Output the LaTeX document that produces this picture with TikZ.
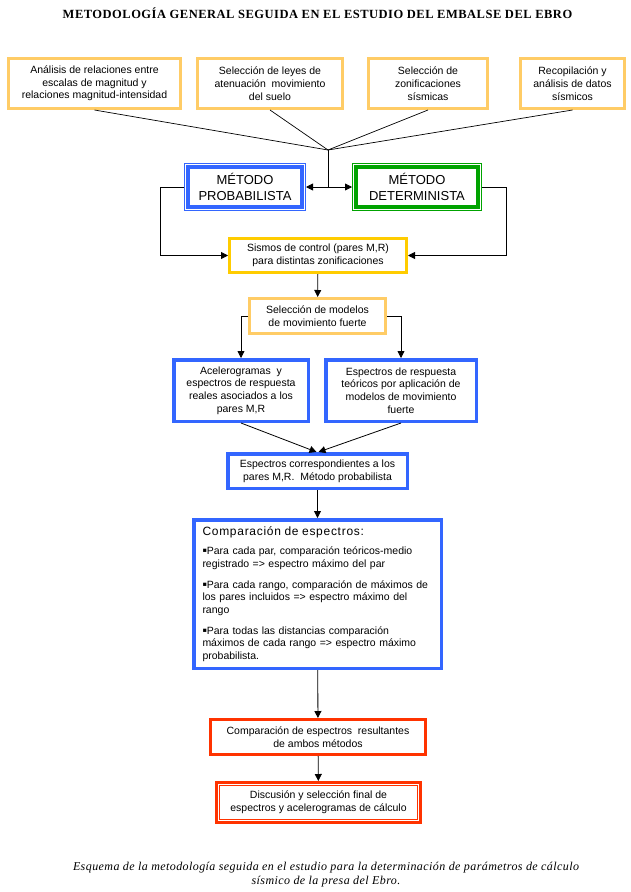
\documentclass[tikz,border=0pt]{standalone}
\usepackage{fontspec}
\setmainfont{Liberation Serif}
\setsansfont{Liberation Sans}
\newfontfamily\simbolos{DejaVu Sans}
\usepackage{xcolor}
\usepackage{tikz}
\usetikzlibrary{arrows.meta}
\definecolor{naranja}{HTML}{FFCC66}
\definecolor{oro}{HTML}{FFCC00}
\definecolor{azul}{HTML}{3366FF}
\definecolor{verde}{HTML}{00A300}
\definecolor{rojo}{HTML}{FF3300}
\newcommand{\vineta}{\raisebox{2pt}{\simbolos\fontsize{6.5}{6.5}\selectfont▪}}
\tikzset{caja/.style ={draw, line width=3pt, inner sep=0pt, align=center, font=\sffamily\fontsize{10.5}{12.7}\selectfont}}
\tikzset{metodo/.style ={draw, line width=1pt, inner sep=0pt, align=center, font=\sffamily\fontsize{13}{16}\selectfont}}
\tikzset{linea/.style ={line width=0.7pt}}
\tikzset{punta/.tip ={Triangle[length=7pt,width=7pt]}}
\tikzset{flecha/.style ={line width=0.8pt, -punta}}

\begin{document}
\begin{tikzpicture}[x=1pt,y=-1pt]
{
\useasboundingbox (0,0) rectangle (631,892);
\node[font=\bfseries\fontsize{12.5}{14}\selectfont\addfontfeature{LetterSpace=4}] (titulo) at (317.5,13) {METODOLOGÍA GENERAL SEGUIDA EN EL ESTUDIO DEL EMBALSE DEL EBRO};
% datos de partida
\node[caja, draw=naranja, minimum width=172pt, minimum height=50pt] (anal) at (94.5,83.5) {Análisis de relaciones entre\\escalas de magnitud y\\relaciones magnitud-intensidad};
\node[caja, draw=naranja, minimum width=145pt, minimum height=50pt] (leyes) at (270,83.5) {Selección de leyes de\\atenuación\ \ movimiento\\del suelo};
\node[caja, draw=naranja, minimum width=119pt, minimum height=50pt] (zonif) at (428,83.5) {Selección de\\zonificaciones\\sísmicas};
\node[caja, draw=naranja, minimum width=104pt, minimum height=50pt] (recop) at (572.5,83.5) {Recopilación y\\análisis de datos\\sísmicos};
\coordinate (nudo) at (328,150);
\foreach \n in {anal,leyes,zonif,recop}
  \draw[linea] (\n.south) -- (nudo);
% los dos metodos
\node[metodo, draw=azul, minimum width=121pt, minimum height=47pt] (prob) at (245,187) {MÉTODO\\PROBABILISTA};
\draw[azul, line width=3.5pt] ([shift={(4pt,-4pt)}]prob.north west) rectangle ([shift={(-4pt,4pt)}]prob.south east);
\node[metodo, draw=verde, minimum width=129pt, minimum height=47pt] (det) at (417,187) {MÉTODO\\DETERMINISTA};
\draw[verde, line width=3.5pt] ([shift={(4pt,-4pt)}]det.north west) rectangle ([shift={(-4pt,4pt)}]det.south east);
\draw[linea] (nudo) -- (nudo |- prob.east);
\draw[flecha, punta-punta] (prob.east) -- (det.west);
% cadena central
\node[caja, draw=oro, minimum width=177pt, minimum height=34pt] (sismos) at (318,255.5) {Sismos de control (pares M,R)\\para distintas zonificaciones};
\node[caja, draw=naranja, minimum width=136pt, minimum height=35pt] (sel) at (317.5,316) {Selección de modelos\\de movimiento fuerte};
\node[caja, draw=azul, line width=3.5pt, minimum width=134.5pt, minimum height=61.5pt] (acel) at (241,390.5) {Acelerogramas\ \ y\\espectros de respuesta\\reales asociados a los\\pares M,R};
\node[caja, draw=azul, line width=3.5pt, minimum width=150.5pt, minimum height=61.5pt] (teor) at (401,390.5) {Espectros de respuesta\\teóricos por aplicación de\\modelos de movimiento\\fuerte};
\node[caja, draw=azul, line width=3.5pt, minimum width=179.5pt, minimum height=34.5pt] (espc) at (317.5,471) {Espectros correspondientes a los\\pares M,R.\ \ Método probabilista};
\node[caja, draw=azul, line width=3.5pt, minimum width=247.5pt, minimum height=148.5pt, text width=230pt, align=left] (comp) at (317.5,594) {{\fontsize{12}{14}\selectfont\addfontfeature{LetterSpace=6}Comparación de espectros:}\\[7pt]
\vineta Para cada par, comparación teóricos-medio\\registrado => espectro máximo del par\\[8pt]
\vineta Para cada rango, comparación de máximos de\\los pares incluidos => espectro máximo del\\rango\\[8pt]
\vineta Para todas las distancias comparación\\máximos de cada rango => espectro máximo\\probabilista.};
\node[caja, draw=rojo, minimum width=215pt, minimum height=35pt] (res) at (318,737) {Comparación de espectros\ \ resultantes\\de ambos métodos};
\node[caja, draw=rojo, minimum width=204pt, minimum height=40pt] (disc) at (318.5,802.5) {Discusión y selección final de\\espectros y acelerogramas de cálculo};
\draw[rojo, line width=1pt] ([shift={(4.5pt,-4.5pt)}]disc.north west) rectangle ([shift={(-4.5pt,4.5pt)}]disc.south east);
\draw[flecha] (prob.west) -- ++(-24,0) |- (sismos.west);
\draw[flecha] (det.east) -- ++(24,0) |- (sismos.east);
\draw[flecha] (sismos) -- (sel);
\draw[flecha] (sel.west) -| (acel.north);
\draw[flecha] (sel.east) -| (teor.north);
\draw[flecha] (acel.south) -- ([xshift=-1pt]espc.north);
\draw[flecha] (teor.south) -- ([xshift=1pt]espc.north);
\draw[flecha] (espc) -- (comp);
\draw[flecha] (comp) -- (res);
\draw[flecha] (res) -- (disc);
\node[font=\itshape\fontsize{12}{14}\selectfont\addfontfeature{LetterSpace=3.5}, align=center] (pie) at (326,875) {Esquema de la metodología seguida en el estudio para la determinación de parámetros de cálculo\\sísmico de la presa del Ebro.};
}
\end{tikzpicture}
\end{document}
